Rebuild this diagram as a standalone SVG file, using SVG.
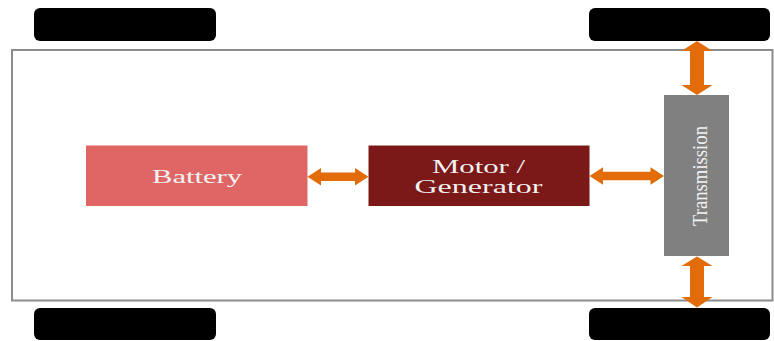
<svg xmlns="http://www.w3.org/2000/svg" width="774" height="341" viewBox="0 0 774 341">
<style>
.wheel{fill:#000}
.lbl{font-family:"Liberation Serif","Times New Roman",serif;fill:#f2f2f2;text-anchor:middle}
.arrow{fill:#E26C09}
</style>
<rect width="774" height="341" fill="#fff"/>
<g id="frame"><rect x="12" y="50" width="760.5" height="250.5" fill="none" stroke="#8c8c8c" stroke-width="2"/></g>
<g id="wheel-tl"><rect class="wheel" x="34" y="8" width="182" height="33" rx="6"/></g>
<g id="wheel-tr"><rect class="wheel" x="589" y="8" width="181" height="33" rx="6"/></g>
<g id="wheel-bl"><rect class="wheel" x="34" y="308" width="182" height="32" rx="6"/></g>
<g id="wheel-br"><rect class="wheel" x="589" y="308" width="181" height="32" rx="6"/></g>
<g id="battery">
<rect x="86" y="145.5" width="221.5" height="60.5" fill="#E06666"/>
<text class="lbl" x="197" y="182.5" font-size="18" textLength="90" lengthAdjust="spacingAndGlyphs">Battery</text>
</g>
<g id="motor">
<rect x="368.5" y="145.5" width="221" height="60.5" fill="#7B1818"/>
<text class="lbl" x="478.5" y="173" font-size="18" textLength="93" lengthAdjust="spacingAndGlyphs">Motor /</text>
<text class="lbl" x="478.5" y="193" font-size="18" textLength="128" lengthAdjust="spacingAndGlyphs">Generator</text>
</g>
<g id="transmission">
<rect x="664" y="95" width="65" height="161" fill="#808080"/>
<text class="lbl" transform="translate(707,176) rotate(-90)" x="0" y="0" font-size="21" fill="#ececec" textLength="100" lengthAdjust="spacingAndGlyphs">Transmission</text>
</g>
<g id="connectors">
<path class="arrow" d="M307.5,176.7 L321,168 L321,172.5 L355,172.5 L355,168 L368.5,176.7 L355,185.5 L355,181 L321,181 L321,185.5 Z"/>
<path class="arrow" d="M589.5,176 L603,167.3 L603,171.8 L650.5,171.8 L650.5,167.3 L664,176 L650.5,184.7 L650.5,180.2 L603,180.2 L603,184.7 Z"/>
<path class="arrow" d="M697,41 L712.5,51 L704,51 L704,85 L712.5,85 L697,95 L681.5,85 L690,85 L690,51 L681.5,51 Z"/>
<path class="arrow" d="M697,256.5 L712.5,266 L704,266 L704,297 L712.5,297 L697,307.5 L681.5,297 L690,297 L690,266 L681.5,266 Z"/>
</g>
</svg>
